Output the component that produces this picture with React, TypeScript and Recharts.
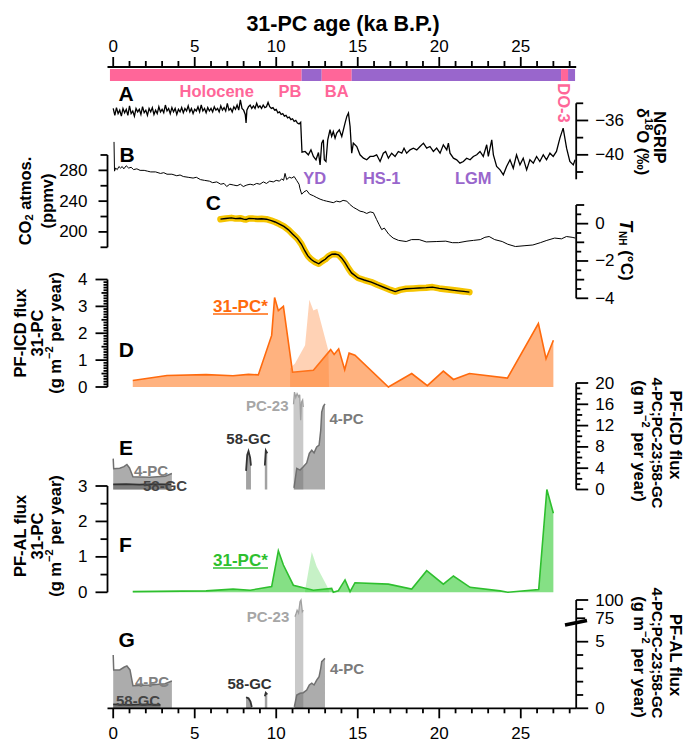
import React from 'react';
import { ComposedChart, Line, Area, XAxis, YAxis, ReferenceArea, ReferenceLine } from 'recharts';

const W = 684;
const H = 742;
const PLOT_L = 107.5;
const PLOT_R = 576.2;
const AGE_DOMAIN: [number, number] = [-0.35, 28.4];
const FONT = '"Liberation Sans", Arial, Helvetica, sans-serif';
const PINK = '#ff6699';
const PURPLE = '#9966cc';

// ---- data (age in ka B.P., value) ----
const eras = [
  { from: -0.2, to: 11.56, color: PINK },
  { from: 11.56, to: 12.79, color: PURPLE },
  { from: 12.79, to: 14.63, color: PINK },
  { from: 14.63, to: 27.47, color: PURPLE },
  { from: 27.47, to: 27.9, color: PINK },
  { from: 27.9, to: 28.33, color: PURPLE },
];

const ngrip = [
  [0, -34.6], [0.1, -35.4], [0.2, -34.5], [0.3, -35.2], [0.4, -34.8], [0.5, -35.5], [0.6, -34.6], [0.7, -35.1], [0.8, -34.7], [0.9, -35.4],
  [1.0, -34.3], [1.1, -35.2], [1.2, -34.9], [1.3, -35.5], [1.4, -34.6], [1.5, -35.0], [1.6, -34.7], [1.7, -35.3], [1.8, -34.4], [1.9, -35.1],
  [2.0, -34.8], [2.1, -35.4], [2.2, -34.6], [2.3, -35.0], [2.4, -34.5], [2.5, -35.3], [2.6, -34.8], [2.7, -35.2], [2.8, -34.4], [2.9, -35.0],
  [3.0, -34.7], [3.1, -35.1], [3.2, -34.2], [3.3, -34.9], [3.4, -34.6], [3.5, -35.2], [3.6, -34.5], [3.7, -35.0], [3.8, -34.6], [3.9, -35.3],
  [4.0, -34.7], [4.1, -35.0], [4.2, -34.5], [4.3, -35.1], [4.4, -34.6], [4.5, -34.9], [4.6, -34.3], [4.7, -35.0], [4.8, -34.6], [4.9, -35.2],
  [5.0, -34.7], [5.1, -34.9], [5.2, -34.4], [5.3, -35.0], [5.4, -34.2], [5.5, -34.9], [5.6, -34.6], [5.7, -35.1], [5.8, -34.5], [5.9, -34.9],
  [6.0, -34.6], [6.1, -35.0], [6.2, -34.4], [6.3, -34.8], [6.4, -34.6], [6.5, -35.0], [6.6, -34.3], [6.7, -34.8], [6.8, -34.5], [6.9, -34.9],
  [7.0, -34.0], [7.1, -34.8], [7.2, -34.6], [7.3, -35.0], [7.4, -34.4], [7.5, -34.7], [7.6, -34.2], [7.7, -34.8], [7.8, -33.6], [7.9, -34.6],
  [8.0, -34.8], [8.1, -35.3], [8.15, -36.3], [8.2, -34.8], [8.3, -34.4], [8.4, -34.2], [8.5, -34.6], [8.6, -34.3], [8.7, -34.6], [8.8, -34.0],
  [8.9, -34.5], [9.0, -34.3], [9.1, -34.6], [9.2, -34.2], [9.3, -34.5], [9.4, -34.4], [9.5, -33.9], [9.6, -34.4], [9.7, -34.6], [9.8, -34.5],
  [9.9, -34.8], [10.0, -34.7], [10.1, -35.1], [10.2, -35.0], [10.3, -35.3], [10.4, -35.2], [10.5, -35.5], [10.6, -35.4], [10.7, -35.7], [10.8, -35.6],
  [10.9, -35.9], [11.0, -35.8], [11.1, -36.1], [11.2, -36.0], [11.3, -36.3], [11.4, -36.4], [11.5, -36.2],
  [11.58, -39.7], [11.77, -39.61], [11.97, -40.0], [12.13, -39.42], [12.28, -40.19], [12.44, -40.58], [12.59, -39.73], [12.69, -41.17], [12.79, -38.64], [12.89, -38.25],
  [12.95, -40.58], [13.05, -40.78], [13.16, -38.25], [13.3, -37.08], [13.4, -37.86], [13.5, -37.28], [13.61, -38.06], [13.71, -37.47], [13.87, -37.08], [14.02, -37.86],
  [14.22, -36.31], [14.33, -35.53], [14.43, -35.14], [14.53, -36.7], [14.63, -39.81], [14.73, -38.64], [14.94, -39.03], [15.14, -40.0], [15.35, -40.39], [15.55, -40.58],
  [15.76, -40.19], [15.96, -40.19], [16.16, -40.0], [16.37, -40.78], [16.57, -39.81], [16.71, -39.61], [16.88, -40.39], [17.08, -39.81], [17.29, -40.19], [17.49, -39.61],
  [17.7, -39.81], [17.84, -39.22], [18.0, -39.81], [18.21, -39.42], [18.41, -39.22], [18.62, -39.42], [18.82, -39.03], [19.03, -38.64], [19.23, -39.22], [19.43, -39.03],
  [19.64, -39.61], [19.84, -39.22], [20.05, -39.81], [20.25, -38.83], [20.46, -39.42], [20.56, -38.64], [20.66, -39.81], [20.87, -40.39], [21.07, -40.58], [21.27, -40.97],
  [21.48, -40.78], [21.68, -40.39], [21.89, -40.58], [22.09, -40.19], [22.3, -40.0], [22.5, -39.61], [22.7, -40.19], [22.91, -38.83], [23.01, -40.19], [23.22, -38.25],
  [23.32, -40.0], [23.52, -41.36], [23.73, -41.75], [23.93, -42.33], [24.13, -41.36], [24.34, -40.58], [24.54, -41.56], [24.74, -40.0], [24.95, -41.17], [25.15, -40.39],
  [25.36, -41.75], [25.56, -40.58], [25.77, -40.97], [25.97, -40.19], [26.17, -40.78], [26.38, -40.0], [26.58, -40.58], [26.79, -39.81], [26.99, -40.19], [27.19, -39.61],
  [27.4, -38.06], [27.6, -36.89], [27.81, -39.22], [28.01, -40.78], [28.22, -41.17], [28.33, -40.58],
];

const co2 = [
  [0.05, 317], [0.08, 279], [0.15, 283], [0.25, 281], [0.35, 285], [0.45, 283], [0.55, 285], [0.65, 282], [0.8, 286], [0.95, 283],
  [1.1, 284], [1.25, 281], [1.45, 282], [1.65, 280], [1.9, 280], [2.1, 279], [2.3, 278], [2.6, 278], [2.9, 276], [3.1, 277],
  [3.3, 275], [3.6, 275], [3.9, 273], [4.1, 274], [4.3, 272], [4.6, 271], [4.9, 270], [5.1, 271], [5.35, 268], [5.6, 267],
  [5.9, 266], [6.1, 264], [6.35, 265], [6.6, 262], [6.8, 263], [6.96, 259], [7.15, 262], [7.37, 261], [7.6, 260], [7.8, 262],
  [7.98, 259], [8.2, 261], [8.4, 262], [8.6, 261], [8.8, 263], [9.0, 262], [9.21, 265], [9.4, 263], [9.6, 266], [9.82, 265],
  [10.0, 267], [10.2, 266], [10.33, 269], [10.45, 267], [10.54, 276], [10.64, 268], [10.8, 271], [10.95, 270], [11.1, 272], [11.25, 267],
  [11.4, 262], [11.46, 256], [11.56, 249], [11.7, 252], [11.87, 254], [12.05, 249], [12.28, 247], [12.45, 245], [12.69, 242.6], [12.9, 241],
  [13.09, 240], [13.3, 239], [13.5, 238], [13.7, 240], [13.91, 239], [14.1, 241], [14.33, 240], [14.5, 236], [14.73, 232], [14.9, 230],
  [15.14, 227], [15.35, 226], [15.55, 224], [15.76, 226], [15.96, 225], [16.16, 216], [16.3, 210], [16.47, 203], [16.63, 205], [16.9, 197],
  [17.17, 192], [17.5, 189], [17.97, 187.5], [18.3, 190], [18.77, 190], [19.2, 187], [19.85, 187.5], [20.4, 188], [20.8, 186], [21.18, 186],
  [21.7, 188], [22.1, 189], [22.52, 190], [22.8, 193], [23.06, 194], [23.4, 190], [23.86, 187.5], [24.2, 184], [24.67, 181], [25.2, 182],
  [25.74, 183], [26.2, 186], [26.6, 189], [27.08, 192], [27.5, 191], [27.8, 194], [28.15, 193], [28.35, 192],
];

const tnh = [
  [6.58, 0.24], [6.9, 0.28], [7.25, 0.31], [7.5, 0.27], [7.79, 0.29], [8.0, 0.24], [8.15, 0.22], [8.33, 0.28], [8.6, 0.27], [8.86, 0.25],
  [9.1, 0.26], [9.4, 0.24], [9.7, 0.16], [9.93, 0.09], [10.2, -0.02], [10.47, -0.15], [10.75, -0.33], [11.0, -0.55], [11.3, -0.8], [11.54, -1.09],
  [11.75, -1.45], [11.94, -1.73], [12.15, -1.92], [12.34, -2.04], [12.61, -2.15], [12.8, -2.02], [13.01, -1.91], [13.2, -1.75], [13.42, -1.64], [13.62, -1.63],
  [13.82, -1.67], [14.02, -1.85], [14.22, -2.09], [14.42, -2.38], [14.62, -2.64], [15.02, -2.91], [15.4, -3.02], [15.83, -3.13], [16.2, -3.27], [16.63, -3.42],
  [17.0, -3.55], [17.3, -3.64], [17.6, -3.55], [17.97, -3.49], [18.4, -3.47], [18.77, -3.45], [19.2, -3.43], [19.58, -3.4], [20.0, -3.47], [20.38, -3.51],
  [20.8, -3.56], [21.18, -3.6], [21.5, -3.63], [21.85, -3.67],
];

// PF-ICD flux, 31-PC
const icd31 = [
  [1.2, 0.24], [3.3, 0.43], [5.7, 0.46], [7.35, 0.42], [8.3, 0.47], [8.9, 0.45], [9.72, 1.92], [9.9, 3.33], [10.13, 2.84], [10.44, 3.0],
  [11.0, 0.55], [12.28, 0.62], [13.34, 1.39], [13.55, 1.21], [13.83, 1.42], [14.2, 0.64], [14.47, 1.26], [14.83, 1.18], [16.88, 0.0], [18.31, 0.5],
  [19.27, 0.05], [20.25, 0.59], [20.87, 0.28], [21.85, 0.5], [24.18, 0.33], [26.08, 2.36], [26.55, 1.05], [27.0, 1.74],
];
const icd31Alt = [[10.85, 0.7], [11.15, 0.87], [11.77, 1.55], [12.03, 3.25], [12.28, 2.85], [12.52, 2.91], [13.2, 1.35], [13.24, 0]];

// PF-ICD flux, 4-PC / PC-23 / 58-GC
const icd4pcA = [[0, 5.8], [0.03, 3.9], [0.4, 4.0], [0.66, 4.3], [0.84, 4.7], [1.0, 4.05], [1.21, 2.4], [2.26, 2.3], [3.18, 2.5], [3.6, 3.0]];
const icd4pcB = [[11.09, 0.3], [11.26, 3.96], [11.46, 3.64], [11.66, 4.26], [11.87, 5.0], [12.03, 6.77], [12.18, 7.38], [12.32, 6.88], [12.48, 8.0], [12.63, 8.32], [12.73, 11.12], [12.79, 14.54], [12.89, 15.6], [12.99, 16.1]];
const icdPc23 = [[11.06, 16.0], [11.12, 18.3], [11.2, 17.3], [11.28, 18.0], [11.38, 17.4], [11.44, 17.8], [11.5, 13.0], [11.55, 16.4], [11.62, 16.8], [11.66, 15.5]];
const icd58A = [[0, 0.95], [0.8, 1.0], [1.6, 0.9], [2.4, 1.0], [3.2, 0.95], [3.55, 0.95]];
const icd58B = [[8.15, 3.5], [8.22, 6.5], [8.3, 7.2], [8.4, 6.0], [8.45, 4.5]];
const icd58C = [[9.3, 4.5], [9.36, 7.3], [9.45, 6.8]];

// PF-AL flux, 31-PC
const al31 = [
  [1.2, 0.02], [5.7, 0.04], [7.35, 0.09], [8.4, 0.06], [9.72, 0.16], [10.13, 1.17], [10.44, 0.77], [11.05, 0.2], [12.28, 0.06], [13.4, 0.11],
  [13.5, 0.0], [13.8, 0.04], [14.22, 0.35], [14.53, 0.02], [14.83, 0.27], [16.88, 0.23], [18.31, 0.09], [19.23, 0.61], [20.25, 0.23], [20.87, 0.46],
  [21.89, 0.14], [23.73, 0.04], [24.2, 0.0], [26.1, 0.08], [26.6, 2.9], [27.0, 2.23],
];
const al31Alt = [[11.77, 0.06], [12.18, 1.14], [12.48, 0.73], [13.2, 0.1], [13.25, 0]];

// PF-AL flux, 4-PC / PC-23 / 58-GC
const al4pcA = [[0, 4.0], [0.03, 2.88], [0.4, 2.88], [0.66, 3.08], [0.84, 3.18], [1.03, 2.88], [1.21, 1.7], [2.26, 1.75], [3.18, 1.85], [3.6, 2.05]];
const al4pcB = [[11.11, 0.1], [11.26, 1.0], [11.46, 1.13], [11.66, 1.17], [11.87, 1.37], [12.03, 1.75], [12.18, 1.88], [12.32, 1.75], [12.48, 2.12], [12.63, 2.37], [12.73, 3.0], [12.79, 3.5], [12.89, 3.63], [12.99, 3.75]];
const alPc23 = [[11.15, 77], [11.2, 80], [11.28, 86], [11.37, 82], [11.46, 97.7], [11.52, 100], [11.6, 84], [11.66, 86]];
const al58A = [[0, 0.3], [1.0, 0.25], [2.0, 0.3], [2.9, 0.25]];
const al58B = [[8.15, 0.83], [8.3, 0.75], [8.42, 0.5], [8.5, 0.1]];
const al58C = [[9.3, 0.9], [9.36, 1.17], [9.45, 1.05]];

// ---- tick labels ----
const ageTicks = [0, 1, 2, 3, 4, 5, 6, 7, 8, 9, 10, 11, 12, 13, 14, 15, 16, 17, 18, 19, 20, 21, 22, 23, 24, 25, 26, 27, 28];
const ageLabels = [0, 5, 10, 15, 20, 25];
const ngripLabels = [-36, -40];
const co2Labels = [200, 240, 280];
const tnhLabels = [0, -2, -4];
const icdLabels = [0, 1, 2, 3, 4];
const icdOtherLabels = [0, 4, 8, 12, 16, 20];
const alLabels = [0, 1, 2, 3];

// broken axis for panel G: 0-5 linear, 5-75 squeezed, 75-100 compressed
const brk = (v: number) => (v <= 5 ? v : v <= 75 ? 5 + ((v - 5) * 1.76) / 70 : 6.76 + ((v - 75) * 1.37) / 25);

const pts = (a: number[][]) => a.map(([x, v]) => ({ x, v }));
const near = (a: number, b: number) => Math.abs(a - b) < 1e-6;
const fmt = (v: number) => (v < 0 ? '\u2212' + Math.abs(v) : String(v));

type Tk = { v: number; len: number; label?: string };
function mkTicks(from: number, to: number, step: number, labels: number[], len: (v: number) => number, labLen = 12): Tk[] {
  const out: Tk[] = [];
  const n = Math.round((to - from) / step);
  for (let i = 0; i <= n; i++) {
    const v = +(from + i * step).toFixed(4);
    const lab = labels.some((l) => near(l, v));
    out.push({ v, len: lab ? labLen : len(v), label: lab ? fmt(v) : undefined });
  }
  return out;
}

const topTicks = ageTicks.map((v) => ({ v, len: ageLabels.includes(v) ? 10 : 6, label: ageLabels.includes(v) ? String(v) : undefined }));
const botTicks = ageTicks.map((v) => ({ v, len: ageLabels.includes(v) ? 10 : 5, label: ageLabels.includes(v) ? String(v) : undefined }));
const ngripTicks = mkTicks(-42, -34, 2, ngripLabels, () => 7);
const co2Ticks = mkTicks(180, 300, 20, co2Labels, () => 7, 9);
const tnhTicks = mkTicks(-4, 1, 0.5, tnhLabels, (v) => (near(v, Math.round(v)) ? 8 : 5));
const icdTicks = mkTicks(0, 4, 0.1, icdLabels, (v) => (near(v * 2, Math.round(v * 2)) ? 6 : 4));
const icdOtherTicks = mkTicks(0, 20, 1, icdOtherLabels, (v) => (v % 2 === 0 ? 6 : 4));
const alTicks = mkTicks(0, 3, 0.5, alLabels, () => 7);
const alOtherTicks: Tk[] = [
  { v: 0, len: 12, label: '0' }, { v: 1, len: 7 }, { v: 2, len: 7 }, { v: 3, len: 7 }, { v: 4, len: 7 },
  { v: 5, len: 12, label: '5' }, { v: brk(75), len: 9, label: '75' }, { v: brk(87.5), len: 7 }, { v: brk(100), len: 12, label: '100' },
];

const ink = { stroke: '#000', strokeWidth: 1.8 };
type Side = 'top' | 'bottom' | 'left' | 'right';

function tickOf(specs: Tk[], side: Side) {
  const Tick = (p: any) => {
    const t = specs.find((s) => near(s.v, Number(p.payload?.value)));
    if (!t) return <g />;
    const x = Number(p.x);
    const y = Number(p.y);
    const lbl = { fontSize: 17, fontFamily: FONT, fill: '#000' };
    if (side === 'top')
      return (
        <g>
          <line x1={x} x2={x} y1={y} y2={y - t.len} {...ink} />
          {t.label ? <text x={x} y={y - 15} textAnchor="middle" {...lbl}>{t.label}</text> : null}
        </g>
      );
    if (side === 'bottom')
      return (
        <g>
          <line x1={x} x2={x} y1={y} y2={y + t.len} {...ink} />
          {t.label ? <text x={x} y={y + 30.5} textAnchor="middle" {...lbl}>{t.label}</text> : null}
        </g>
      );
    if (side === 'right')
      return (
        <g>
          <line x1={x} x2={x + t.len} y1={y} y2={y} {...ink} />
          {t.label ? <text x={x + 19} y={y} dominantBaseline="central" textAnchor="start" {...lbl}>{t.label}</text> : null}
        </g>
      );
    return (
      <g>
        <line x1={x} x2={x - t.len} y1={y} y2={y} {...ink} />
        {t.label ? <text x={x - 20} y={y} dominantBaseline="central" textAnchor="end" {...lbl}>{t.label}</text> : null}
      </g>
    );
  };
  return Tick;
}

function Sheet(props: { top: number; bottom: number; lw?: number; rw?: number; xt?: number; xb?: number; children: React.ReactNode }) {
  const { top, bottom, lw = 0, rw = 0, xt = 0, xb = 0, children } = props;
  return (
    <div style={{ position: 'absolute', left: 0, top: 0 }}>
      <ComposedChart
        width={W}
        height={H}
        margin={{ top: top - xt, bottom: H - bottom - xb, left: PLOT_L - lw, right: W - PLOT_R - rw }}
      >
        {children}
      </ComposedChart>
    </div>
  );
}

const hiddenX = <XAxis type="number" dataKey="x" domain={AGE_DOMAIN} hide allowDataOverflow />;

function yAxis(side: 'left' | 'right', domain: [number, number], specs: Tk[], line = true) {
  return (
    <YAxis
      orientation={side}
      type="number"
      width={60}
      domain={domain}
      ticks={specs.map((s) => s.v)}
      interval={0}
      tickLine={false}
      tickSize={0}
      tickMargin={0}
      axisLine={line ? ink : false}
      tick={tickOf(specs, side)}
    />
  );
}

const T = (p: { x: number; y: number; rot?: number; size?: number; color?: string; anchor?: 'start' | 'middle' | 'end'; children: React.ReactNode }) => (
  <text
    x={p.x}
    y={p.y}
    transform={p.rot ? `rotate(${p.rot} ${p.x} ${p.y})` : undefined}
    textAnchor={p.anchor ?? 'middle'}
    dominantBaseline="central"
    fontSize={p.size ?? 16.5}
    fontWeight="bold"
    fontFamily={FONT}
    fill={p.color ?? '#000'}
  >
    {p.children}
  </text>
);

const Units = () => (
  <>
    (g m<tspan dy={-6} fontSize={11}>{'\u22122'}</tspan>
    <tspan dy={6}> per year)</tspan>
  </>
);

const ORANGE = '#ff6a0d';
const GREEN = '#2ebf2e';

// invisible anchor series so the top axis sheet has data to lay out against
const eraEdges = eras.map((e) => ({ x: e.from, v: 0 }));

export default function App() {
  return (
    <div style={{ position: 'absolute', left: 0, top: 0, width: W, height: H, background: '#fff', overflow: 'hidden' }}>
      {/* top age axis and period bar */}
      <Sheet top={67} bottom={81} xt={67}>
        <XAxis
          type="number"
          dataKey="x"
          domain={AGE_DOMAIN}
          orientation="top"
          height={67}
          ticks={ageTicks}
          interval={0}
          tickLine={false}
          tickSize={0}
          tickMargin={0}
          axisLine={ink}
          tick={tickOf(topTicks, 'top')}
        />
        <YAxis type="number" domain={[0, 14]} hide />
        {eras.map((e, i) => (
          <ReferenceArea key={i} x1={e.from} x2={e.to} y1={0} y2={12} fill={e.color} fillOpacity={1} stroke="none" ifOverflow="visible" />
        ))}
        <Line data={eraEdges} dataKey="v" stroke="none" dot={false} activeDot={false} isAnimationActive={false} />
      </Sheet>

      {/* A: NGRIP */}
      <Sheet top={99} bottom={179.3} rw={60}>
        {hiddenX}
        {yAxis('right', [-42.85, -33.5], ngripTicks, false)}
        <ReferenceLine segment={[{ x: 28.4, y: -34 }, { x: 28.4, y: -42.85 }]} stroke="#000" strokeWidth={1.8} ifOverflow="visible" />
        <Line data={pts(ngrip)} dataKey="v" type="linear" stroke="#000" strokeWidth={1.3} dot={false} activeDot={false} isAnimationActive={false} />
      </Sheet>

      {/* B: CO2 */}
      <Sheet top={139.6} bottom={247.3} lw={60}>
        {hiddenX}
        {yAxis('left', [180, 320], co2Ticks, false)}
        <ReferenceLine segment={[{ x: -0.35, y: 180 }, { x: -0.35, y: 300 }]} stroke="#000" strokeWidth={1.8} ifOverflow="visible" />
        <Line data={pts(co2)} dataKey="v" type="linear" stroke="#000" strokeWidth={1} dot={false} activeDot={false} isAnimationActive={false} />
      </Sheet>

      {/* C: T_NH */}
      <Sheet top={205} bottom={298.3} rw={60}>
        {hiddenX}
        {yAxis('right', [-4, 1], tnhTicks)}
        <Line data={pts(tnh)} dataKey="v" type="linear" stroke="#f5c400" strokeWidth={6.5} strokeLinejoin="round" strokeLinecap="round" dot={false} activeDot={false} isAnimationActive={false} />
        <Line data={pts(tnh)} dataKey="v" type="linear" stroke="#000" strokeWidth={1.4} dot={false} activeDot={false} isAnimationActive={false} />
      </Sheet>

      {/* D: PF-ICD 31-PC */}
      <Sheet top={279.5} bottom={387} lw={60}>
        {hiddenX}
        {yAxis('left', [0, 4], icdTicks)}
        <Area data={pts(icd31)} dataKey="v" type="linear" stroke={ORANGE} strokeWidth={1.6} fill="#ff7f2a" fillOpacity={0.6} dot={false} activeDot={false} isAnimationActive={false} />
        <Area data={pts(icd31Alt)} dataKey="v" type="linear" stroke="none" fill="#ff7f2a" fillOpacity={0.35} dot={false} activeDot={false} isAnimationActive={false} />
      </Sheet>

      {/* E: PF-ICD 4-PC / PC-23 / 58-GC */}
      <Sheet top={383} bottom={489.5} rw={60}>
        {hiddenX}
        {yAxis('right', [0, 20], icdOtherTicks)}
        <Area data={pts(icdPc23)} dataKey="v" type="linear" stroke="#a0a0a0" strokeWidth={1.3} fill="#c9c9c9" fillOpacity={1} dot={false} activeDot={false} isAnimationActive={false} />
        <Area data={pts(icd4pcA)} dataKey="v" type="linear" stroke="#707070" strokeWidth={1.5} fill="#5a5a5a" fillOpacity={0.5} dot={false} activeDot={false} isAnimationActive={false} />
        <Area data={pts(icd4pcB)} dataKey="v" type="linear" stroke="#707070" strokeWidth={1.5} fill="#5a5a5a" fillOpacity={0.5} dot={false} activeDot={false} isAnimationActive={false} />
        {[icd58A, icd58B, icd58C].map((s, i) => (
          <Area key={i} data={pts(s)} dataKey="v" type="linear" stroke="#333" strokeWidth={1.8} fill="#555" fillOpacity={0.55} dot={false} activeDot={false} isAnimationActive={false} />
        ))}
      </Sheet>

      {/* F: PF-AL 31-PC */}
      <Sheet top={486} bottom={592.3} lw={60}>
        {hiddenX}
        {yAxis('left', [0, 3], alTicks)}
        <Area data={pts(al31)} dataKey="v" type="linear" stroke={GREEN} strokeWidth={1.6} fill="#33cc33" fillOpacity={0.6} dot={false} activeDot={false} isAnimationActive={false} />
        <Area data={pts(al31Alt)} dataKey="v" type="linear" stroke="none" fill="#33cc33" fillOpacity={0.28} dot={false} activeDot={false} isAnimationActive={false} />
      </Sheet>

      {/* G: PF-AL 4-PC / PC-23 / 58-GC with bottom age axis */}
      <Sheet top={600} bottom={708.3} rw={60} xb={30}>
        <XAxis
          type="number"
          dataKey="x"
          domain={AGE_DOMAIN}
          orientation="bottom"
          height={30}
          ticks={ageTicks}
          interval={0}
          tickLine={false}
          tickSize={0}
          tickMargin={0}
          axisLine={ink}
          tick={tickOf(botTicks, 'bottom')}
        />
        {yAxis('right', [0, 8.13], alOtherTicks)}
        <Area data={pts(alPc23)} dataKey={(d: any) => brk(d.v)} type="linear" stroke="#a0a0a0" strokeWidth={1.3} fill="#c9c9c9" fillOpacity={1} dot={false} activeDot={false} isAnimationActive={false} />
        <Area data={pts(al4pcA)} dataKey={(d: any) => brk(d.v)} type="linear" stroke="#707070" strokeWidth={1.5} fill="#5a5a5a" fillOpacity={0.5} dot={false} activeDot={false} isAnimationActive={false} />
        <Area data={pts(al4pcB)} dataKey={(d: any) => brk(d.v)} type="linear" stroke="#707070" strokeWidth={1.5} fill="#5a5a5a" fillOpacity={0.5} dot={false} activeDot={false} isAnimationActive={false} />
        {[al58A, al58B, al58C].map((s, i) => (
          <Area key={i} data={pts(s)} dataKey={(d: any) => brk(d.v)} type="linear" stroke="#333" strokeWidth={1.8} fill="#555" fillOpacity={0.55} dot={false} activeDot={false} isAnimationActive={false} />
        ))}
      </Sheet>

      {/* text layer */}
      <svg width={W} height={H} style={{ position: 'absolute', left: 0, top: 0, pointerEvents: 'none' }}>
        <text x={343} y={31} textAnchor="middle" fontSize={21.5} fontWeight="bold" fontFamily={FONT}>31-PC age (ka B.P.)</text>

        <T x={216.7} y={91} color={PINK}>Holocene</T>
        <T x={290} y={91} color={PINK}>PB</T>
        <T x={336.7} y={91} color={PINK}>BA</T>
        <T x={564} y={103} rot={90} color={PINK}>DO-3</T>
        <T x={314.7} y={177.5} color={PURPLE}>YD</T>
        <T x={381.7} y={177.5} color={PURPLE}>HS-1</T>
        <T x={473.3} y={177.5} color={PURPLE}>LGM</T>

        <T x={126} y={93} size={21}>A</T>
        <T x={127} y={154} size={21}>B</T>
        <T x={213.3} y={202.5} size={21}>C</T>
        <T x={126.3} y={349} size={21}>D</T>
        <T x={126} y={447} size={21}>E</T>
        <T x={125.5} y={544} size={21}>F</T>
        <T x={126.7} y={639} size={21}>G</T>

        {/* left axis titles */}
        <T x={25} y={201} rot={-90}>
          CO<tspan dy={4} fontSize={11}>2</tspan>
          <tspan dy={-4}> atmos.</tspan>
        </T>
        <T x={46.5} y={201} rot={-90}>(ppmv)</T>
        <T x={20} y={333} rot={-90}>PF-ICD flux</T>
        <T x={36.7} y={333} rot={-90}>31-PC</T>
        <T x={55} y={333} rot={-90}><Units /></T>
        <T x={20} y={536} rot={-90}>PF-AL flux</T>
        <T x={36.7} y={536} rot={-90}>31-PC</T>
        <T x={55} y={536} rot={-90}><Units /></T>

        {/* right axis titles */}
        <T x={660} y={137.5} rot={90}>NGRIP</T>
        <T x={643} y={141.7} rot={90}>
          δ<tspan dy={-6} fontSize={11}>18</tspan>
          <tspan dy={6}>O (‰)</tspan>
        </T>
        <T x={627} y={250} rot={90} size={17}>
          <tspan fontStyle="italic" fontSize={19}>T</tspan>
          <tspan dy={4} fontSize={10}>NH</tspan>
          <tspan dy={-4}> (°C)</tspan>
        </T>
        <T x={676} y={435} rot={90}>PF-ICD flux</T>
        <T x={657} y={443} rot={90} size={15}>4-PC;PC-23;58-GC</T>
        <T x={640} y={441} rot={90}><Units /></T>
        <T x={676} y={655} rot={90}>PF-AL flux</T>
        <T x={657} y={653} rot={90} size={15}>4-PC;PC-23;58-GC</T>
        <T x={640} y={657} rot={90}><Units /></T>

        {/* axis break mark on panel G */}
        <line x1={565} y1={625} x2={587} y2={620.5} stroke="#000" strokeWidth={3.5} />

        {/* series labels */}
        <T x={213} y={306} anchor="start" size={17} color={ORANGE}>31-PC*</T>
        <line x1={213} x2={268} y1={314} y2={314} stroke={ORANGE} strokeWidth={1.6} />
        <T x={213} y={560} anchor="start" size={17} color={GREEN}>31-PC*</T>
        <line x1={213} x2={268} y1={568} y2={568} stroke={GREEN} strokeWidth={1.6} />

        <T x={288.5} y={405} anchor="end" size={15} color="#a6a6a6">PC-23</T>
        <T x={329.5} y={418.7} anchor="start" size={15} color="#7a7a7a">4-PC</T>
        <T x={270.5} y={438} anchor="end" size={15} color="#333">58-GC</T>
        <T x={134} y={470} anchor="start" size={15} color="#808080">4-PC</T>
        <T x={143} y={485} anchor="start" size={15} color="#444">58-GC</T>

        <T x={289.3} y={616.7} anchor="end" size={15} color="#a6a6a6">PC-23</T>
        <T x={330} y={668} anchor="start" size={15} color="#7a7a7a">4-PC</T>
        <T x={271.7} y={683} anchor="end" size={15} color="#333">58-GC</T>
        <T x={135} y={681} anchor="start" size={15} color="#808080">4-PC</T>
        <T x={116} y={700} anchor="start" size={15} color="#444">58-GC</T>
      </svg>
    </div>
  );
}
